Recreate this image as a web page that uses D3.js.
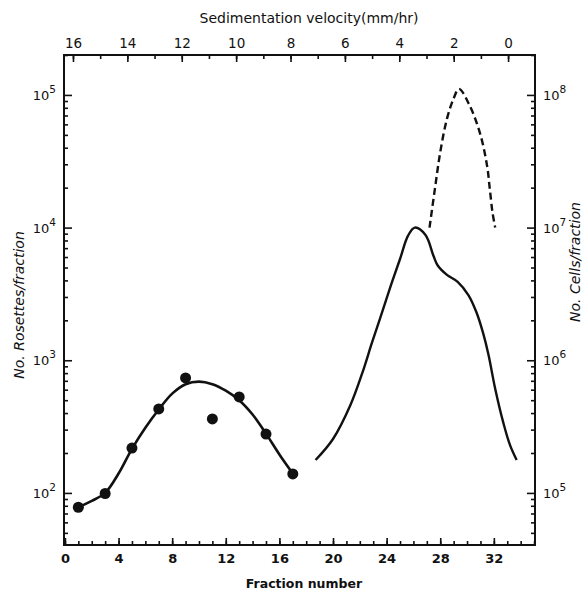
<!DOCTYPE html>
<html><head><meta charset="utf-8">
<script src="https://cdn.jsdelivr.net/npm/d3@7"></script>
<style>
body{margin:0;background:#fff;}
svg text{font-family:"DejaVu Sans",sans-serif;fill:#111;}
</style></head>
<body><svg id="c" width="584" height="592"></svg>
<script>
// ---- data ----
const rosetteFractions = [1, 3, 5, 7, 9, 11, 13, 15, 17];
const rosetteCounts    = [78, 99, 218, 430, 736, 361, 529, 278, 139];

const rosetteFitFractions = [1, 2, 3, 4, 5, 6, 7, 8, 9, 10, 11, 12, 13, 14, 15, 16, 17];
const rosetteFitCounts    = [78, 87, 100, 140, 215, 310, 425, 560, 660, 690, 660, 590, 500, 390, 280, 195, 140];

const cellFractions = [18.7, 20.0, 21.3, 22.2, 22.9, 23.5, 24.25, 25.0, 25.6, 26.1, 26.9, 27.5, 27.8, 28.5, 29.3, 30.1, 30.7, 31.2, 31.6, 32.1, 32.7, 33.2, 33.7];
const cellCounts    = [1.77e5, 2.55e5, 4.6e5, 8.1e5, 1.35e6, 2.05e6, 3.5e6, 5.8e6, 8.7e6, 1.0e7, 8.8e6, 6.1e6, 5.2e6, 4.4e6, 3.9e6, 3.1e6, 2.3e6, 1.6e6, 1.1e6, 6.1e5, 3.4e5, 2.3e5, 1.77e5];

const dashFractions = [27.2, 27.6, 28.0, 28.5, 29.0, 29.4, 30.2, 31.0, 31.5, 31.7, 31.9, 32.1];
const dashCounts    = [1.0e7, 1.95e7, 3.7e7, 6.6e7, 9.4e7, 1.11e8, 8.3e7, 5.0e7, 2.9e7, 1.95e7, 1.3e7, 1.0e7];

const fractionTicks = [0, 4, 8, 12, 16, 20, 24, 28, 32];
const velocityTicks = [16, 14, 12, 10, 8, 6, 4, 2, 0];
const leftDecades  = [1e2, 1e3, 1e4, 1e5];
const rightDecades = [1e5, 1e6, 1e7, 1e8];

// ---- layout ----
const L = 64, R = 535, T = 55, B = 545;
const svg = d3.select("#c");

const x = d3.scaleLinear().domain([-0.07, 35.07]).range([L, R]);
const xv = d3.scaleLinear().domain([16.33, -0.99]).range([L, R]);
const yL = d3.scaleLog().domain([40.5, 2.0e5]).range([B, T]);
const yR = d3.scaleLog().domain([40.5e3, 2.0e8]).range([B, T]);

function minorLog(scale){
  const [a,b] = scale.domain(); const out=[];
  for(let e=Math.floor(Math.log10(a)); e<=Math.ceil(Math.log10(b)); e++){
    for(let m=2;m<=9;m++){ const v=m*Math.pow(10,e); if(v>=a&&v<=b) out.push(v);} }
  return out;
}
function styleAxis(g){ g.select(".domain").remove(); g.selectAll("line").attr("stroke","#111").attr("stroke-width",1.6); }

// bottom axis
svg.append("g").attr("transform",`translate(0,${B})`)
  .call(d3.axisBottom(x).tickValues(d3.range(0,36)).tickSize(-4).tickFormat(""))
  .call(styleAxis);
svg.append("g").attr("transform",`translate(0,${B})`)
  .call(d3.axisBottom(x).tickValues(fractionTicks).tickSize(-7).tickPadding(9))
  .call(styleAxis)
  .call(g=>g.selectAll("text").attr("font-size",13).attr("font-weight","bold").style("font-family","DejaVu Sans"));

// top axis
svg.append("g").attr("transform",`translate(0,${T})`)
  .call(d3.axisTop(xv).tickValues(d3.range(0,17)).tickSize(-4).tickFormat(""))
  .call(styleAxis);
svg.append("g").attr("transform",`translate(0,${T})`)
  .call(d3.axisTop(xv).tickValues(velocityTicks).tickSize(-7).tickPadding(7))
  .call(styleAxis)
  .call(g=>g.selectAll("text").attr("font-size",13.5).style("font-family","DejaVu Sans"));

// left axis
svg.append("g").attr("transform",`translate(${L},0)`)
  .call(d3.axisLeft(yL).tickValues(minorLog(yL)).tickSize(-4).tickFormat(""))
  .call(styleAxis);
svg.append("g").attr("transform",`translate(${L},0)`)
  .call(d3.axisLeft(yL).tickValues(leftDecades).tickSize(-8).tickFormat(""))
  .call(styleAxis);
leftDecades.forEach(v=>{
  const t = svg.append("text").attr("x",L-8).attr("y",yL(v)+5).attr("text-anchor","end").attr("font-size",13);
  t.append("tspan").text("10");
  t.append("tspan").attr("dy",-7).attr("font-size",10.5).text(String(Math.round(Math.log10(v))));
});

// right axis
svg.append("g").attr("transform",`translate(${R},0)`)
  .call(d3.axisRight(yR).tickValues(minorLog(yR)).tickSize(-4).tickFormat(""))
  .call(styleAxis);
svg.append("g").attr("transform",`translate(${R},0)`)
  .call(d3.axisRight(yR).tickValues(rightDecades).tickSize(-8).tickFormat(""))
  .call(styleAxis);
rightDecades.forEach(v=>{
  const t = svg.append("text").attr("x",R+8).attr("y",yR(v)+5).attr("text-anchor","start").attr("font-size",13);
  t.append("tspan").text("10");
  t.append("tspan").attr("dy",-7).attr("font-size",10.5).text(String(Math.round(Math.log10(v))));
});

// frame
svg.append("rect").attr("x",L).attr("y",T).attr("width",R-L).attr("height",B-T)
  .attr("fill","none").attr("stroke","#111").attr("stroke-width",2);

// titles
svg.append("text").attr("x",309).attr("y",23).attr("text-anchor","middle").attr("font-size",14).text("Sedimentation velocity(mm/hr)");
svg.append("text").attr("x",304).attr("y",588).attr("text-anchor","middle").attr("font-size",12.5).attr("font-weight","bold").text("Fraction number");
svg.append("text").attr("transform","translate(24,305) rotate(-90)").attr("text-anchor","middle").attr("font-size",14).attr("font-style","italic").text("No. Rosettes/fraction");
svg.append("text").attr("transform","translate(580,262) rotate(-90)").attr("text-anchor","middle").attr("font-size",14).attr("font-style","italic").text("No. Cells/fraction");

// curves
const lineL = d3.line().x(d=>x(d[0])).y(d=>yL(d[1])).curve(d3.curveCatmullRom.alpha(0.5));
const lineR = d3.line().x(d=>x(d[0])).y(d=>yR(d[1])).curve(d3.curveCatmullRom.alpha(0.5));

svg.append("path").datum(d3.zip(rosetteFitFractions, rosetteFitCounts)).attr("d",lineL)
  .attr("fill","none").attr("stroke","#111").attr("stroke-width",2.6);
svg.append("path").datum(d3.zip(cellFractions, cellCounts)).attr("d",lineR)
  .attr("fill","none").attr("stroke","#111").attr("stroke-width",2.4);
svg.append("path").datum(d3.zip(dashFractions, dashCounts)).attr("d",lineR)
  .attr("fill","none").attr("stroke","#111").attr("stroke-width",2.4).attr("stroke-dasharray","7,4");

svg.selectAll("circle.pt").data(d3.zip(rosetteFractions, rosetteCounts)).join("circle")
  .attr("class","pt").attr("cx",d=>x(d[0])).attr("cy",d=>yL(d[1])).attr("r",5.5).attr("fill","#111");
</script></body></html>
